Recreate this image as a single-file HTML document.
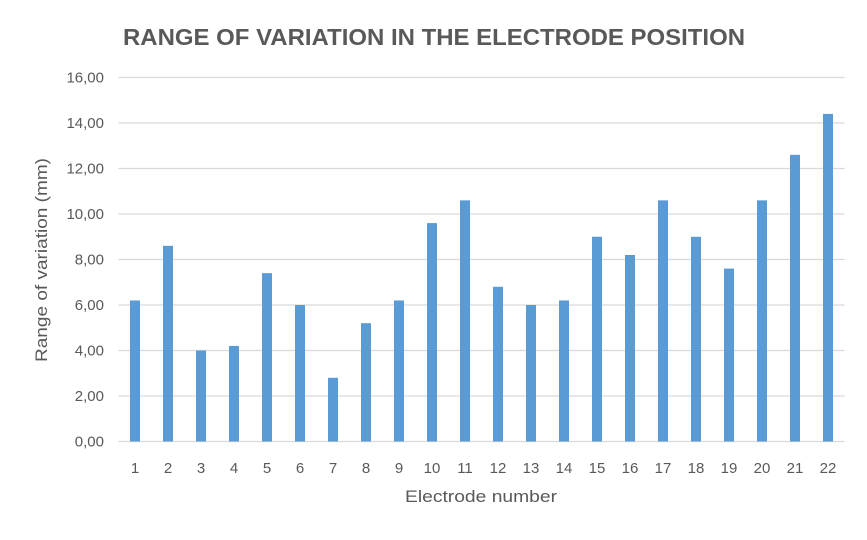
<!DOCTYPE html>
<html><head><meta charset="utf-8"><style>
body{margin:0;background:#fff;}
svg{font-family:"Liberation Sans",sans-serif;}
</style></head><body>
<svg width="867" height="535">
<rect width="867" height="535" fill="#fff"/>
<text x="434" y="45" text-anchor="middle" font-size="23" font-weight="bold" fill="#595959" textLength="622" lengthAdjust="spacingAndGlyphs">RANGE OF VARIATION IN THE ELECTRODE POSITION</text>
<g id="grid"></g><g id="bars"></g><g id="xl"></g><g id="yl"></g>
<text x="481" y="502" font-size="17" fill="#595959" text-anchor="middle" textLength="152" lengthAdjust="spacingAndGlyphs">Electrode number</text>
<text transform="translate(47,260) rotate(-90)" font-size="17" fill="#595959" text-anchor="middle" textLength="204" lengthAdjust="spacingAndGlyphs">Range of variation (mm)</text>
</svg>
<script>
const categories=["1","2","3","4","5","6","7","8","9","10","11","12","13","14","15","16","17","18","19","20","21","22"];
const values=[6.2,8.6,4.0,4.2,7.4,6.0,2.8,5.2,6.2,9.6,10.6,6.8,6.0,6.2,9.0,8.2,10.6,9.0,7.6,10.6,12.6,14.4];
const yTicks=[0,2,4,6,8,10,12,14,16];
const yTickLabels=["0,00","2,00","4,00","6,00","8,00","10,00","12,00","14,00","16,00"];
const NS="http://www.w3.org/2000/svg";
const L=118.5,R=844.5,Y0=441.5,Y1=77.5,YMAX=16;
const y=v=>Y0-(Y0-Y1)*v/YMAX;
const step=(R-L)/categories.length;
const xc=i=>L+step*(i+0.5);
function mk(t,a,p){const e=document.createElementNS(NS,t);for(const k in a)e.setAttribute(k,a[k]);document.getElementById(p).appendChild(e);return e;}
yTicks.forEach((t,i)=>{
 const g=mk('line',{x1:L,x2:R,y1:y(t),y2:y(t),stroke:'#d9d9d9','stroke-width':1.3},'grid');
 
 
 const tx=mk('text',{x:104,y:y(t)+5,'text-anchor':'end','font-size':15,fill:'#595959'},'yl');
 tx.textContent=yTickLabels[i];
 
 
});
values.forEach((v,i)=>{
 const b=mk('rect',{x:xc(i)-5,y:y(v),width:10,height:Y0-y(v),fill:'#5b9bd5'},'bars');
 
 
 const tx=mk('text',{x:xc(i),y:473,'text-anchor':'middle','font-size':15,fill:'#595959'},'xl');
 tx.textContent=categories[i];
 
 
});
</script>
</body></html>
